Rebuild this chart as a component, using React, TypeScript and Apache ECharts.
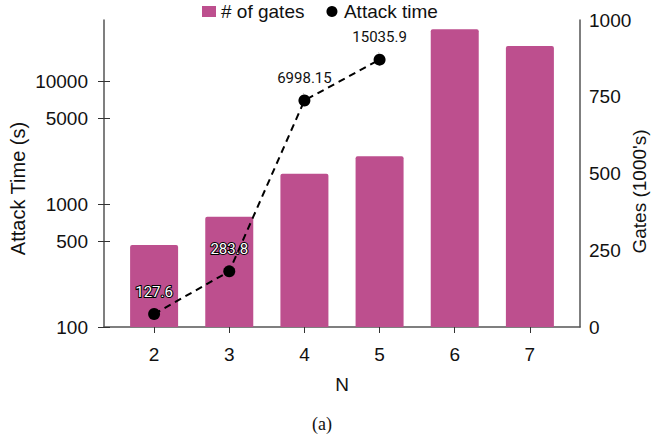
import React, { useEffect, useRef } from "react";
import * as echarts from "echarts";

const nValues = [2, 3, 4, 5, 6, 7];
const gatesThousands = [267, 359, 499, 556, 970, 915];
const attackN = [2, 3, 4, 5];
const attackTimes = [127.6, 283.8, 6998.15, 15035.9];
const attackLabels = ["127.6", "283.8", "6998.15", "15035.9"];
const leftTickLabels = [100, 500, 1000, 5000, 10000];

const FONT = "Liberation Sans, Arial, sans-serif";
const BAR = "#BD4F8E";
const AXIS = "#555";

export default function App() {
  const ref = useRef<HTMLDivElement>(null);
  useEffect(() => {
    document.body.style.margin = "0";
    if (!ref.current) return;
    const chart = echarts.init(ref.current, undefined, { renderer: "svg" });
    const leftTicks = leftTickLabels.map((v) => Math.log10(v));
    const lineData = attackN.map((n, i) => {
      const onBar = i < 2;
      return {
        value: [n, Math.log10(attackTimes[i])],
        label: onBar
          ? { color: "#fff", textBorderColor: "#000", textBorderWidth: 2 }
          : { color: "#111", textBorderColor: "#fff", textBorderWidth: 2 },
        labelLine: { show: !onBar },
      };
    });
    chart.setOption({
      animation: false,
      backgroundColor: "#fff",
      textStyle: { fontFamily: FONT },
      grid: { left: 104, right: 72, top: 20, bottom: 112, containLabel: false, outerBoundsMode: "none" },
      legend: {
        top: 2,
        left: 202,
        padding: 0,
        itemWidth: 14,
        itemHeight: 11,
        itemGap: 22,
        textStyle: { fontSize: 19, color: "#111", fontFamily: FONT },
        data: [
          { name: "# of gates", icon: "rect" },
          { name: "Attack time", icon: "circle" },
        ],
      },
      xAxis: [
        {
          type: "value",
          min: 4 / 3,
          max: 23 / 3,
          position: "bottom",
          name: "N",
          nameLocation: "middle",
          nameGap: 48,
          nameMoveOverlap: false,
          nameTextStyle: { fontSize: 19, color: "#111", fontFamily: FONT },
          axisLine: { show: true, onZero: false, lineStyle: { color: AXIS, width: 1.5 } },
          axisTick: { show: true, customValues: nValues, length: 6, inside: false, lineStyle: { color: "#333" } },
          axisLabel: { customValues: nValues, margin: 18, fontSize: 19, color: "#111", fontFamily: FONT, formatter: (v: number) => String(v) },
          splitLine: { show: false },
        },
        {
          type: "value",
          min: 4 / 3,
          max: 23 / 3,
          position: "bottom",
          axisLine: { show: false, onZero: false },
          axisTick: { show: true, customValues: nValues, length: 6, inside: true, lineStyle: { color: "#333" } },
          axisLabel: { show: false },
          splitLine: { show: false },
        },
      ],
      yAxis: [
        {
          type: "value",
          min: 2,
          max: 4.5,
          position: "left",
          name: "Attack Time (s)",
          nameLocation: "middle",
          nameRotate: 90,
          nameGap: 76,
          nameMoveOverlap: false,
          nameTextStyle: { fontSize: 20, color: "#111", fontFamily: FONT, padding: [0, 30, 0, 0] },
          axisLine: { show: true, onZero: false, lineStyle: { color: AXIS, width: 1.5 } },
          axisTick: { show: true, customValues: leftTicks, length: 6, inside: false, lineStyle: { color: "#333" } },
          axisLabel: {
            customValues: leftTicks,
            margin: 16,
            fontSize: 19,
            color: "#111",
            fontFamily: FONT,
            formatter: (v: number) => String(Math.round(Math.pow(10, v))),
          },
          splitLine: { show: false },
        },
        {
          type: "value",
          min: 0,
          max: 1000,
          interval: 250,
          position: "right",
          name: "Gates (1000's)",
          nameLocation: "middle",
          nameRotate: 90,
          nameGap: 50,
          nameMoveOverlap: false,
          nameTextStyle: { fontSize: 19, color: "#111", fontFamily: FONT, padding: [0, 36, 0, 0] },
          axisLine: { show: true, onZero: false, lineStyle: { color: AXIS, width: 1.5 } },
          axisTick: { show: false },
          axisLabel: { margin: 9, fontSize: 19, color: "#111", fontFamily: FONT, formatter: (v: number) => String(v) },
          splitLine: { show: false },
        },
        {
          type: "value",
          min: 2,
          max: 4.5,
          position: "left",
          axisLine: { show: false, onZero: false },
          axisTick: { show: true, customValues: leftTicks, length: 6, inside: true, lineStyle: { color: "#333" } },
          axisLabel: { show: false },
          splitLine: { show: false },
        },
      ],
      series: [
        {
          name: "# of gates",
          type: "bar",
          xAxisIndex: 0,
          yAxisIndex: 1,
          barWidth: 48,
          itemStyle: { color: BAR, borderRadius: [2, 2, 0, 0] },
          data: nValues.map((n, i) => [n, gatesThousands[i]]),
          z: 1,
        },
        {
          name: "Attack time",
          type: "line",
          xAxisIndex: 0,
          yAxisIndex: 0,
          symbol: "circle",
          symbolSize: 12,
          itemStyle: { color: "#000" },
          lineStyle: { color: "#000", width: 2, type: [7, 5] },
          label: {
            show: true,
            position: "top",
            distance: 9,
            fontSize: 15,
            fontFamily: "Roboto, Noto Sans, sans-serif",
            formatter: (p: any) => attackLabels[p.dataIndex],
          },
          labelLine: { show: true, lineStyle: { color: "#c8c8c8", width: 1 } },
          data: lineData,
          z: 3,
        },
      ],
      graphic: [
        {
          type: "text",
          x: 322,
          y: 424,
          style: {
            text: "(a)",
            align: "center",
            verticalAlign: "middle",
            font: "18px Liberation Serif, Times New Roman, serif",
            fill: "#111",
          },
        },
      ],
    });
    return () => chart.dispose();
  }, []);
  return <div ref={ref} style={{ width: 652, height: 439 }} />;
}
